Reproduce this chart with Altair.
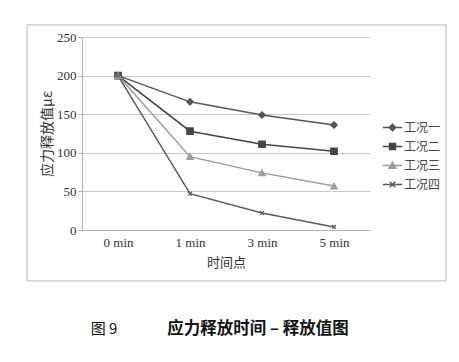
import altair as alt
import pandas as pd

times = ["0 min", "1 min", "3 min", "5 min"]
series_names = ["工况一", "工况二", "工况三", "工况四"]
values = {
    "工况一": [200, 166, 149, 136],
    "工况二": [200, 128, 111, 102],
    "工况三": [200, 95, 74, 57],
    "工况四": [200, 47, 22, 4],
}
colors = ["#555555", "#444444", "#9c9c9c", "#5c5c5c"]
shapes = ["diamond", "square", "triangle-up",
          "M-0.6,-0.6L0.6,0.6M-0.6,0.6L0.6,-0.6"]
legend_shapes = [
    "M-1,0H1M-0.34,0L0,-0.34L0.34,0L0,0.34Z",
    "M-1,0H1M-0.3,-0.3H0.3V0.3H-0.3Z",
    "M-1,0H1M-0.34,0.28L0,-0.32L0.34,0.28Z",
    "M-1,0H1M-0.28,-0.28L0.28,0.28M-0.28,0.28L0.28,-0.28",
]

rows = []
for s in series_names:
    for t, v in zip(times, values[s]):
        rows.append({"series": s, "s2": s, "time": t, "value": v})
df = pd.DataFrame(rows)

cjk = "Noto Sans CJK SC"
serif = "Liberation Serif"

x_enc = alt.X("time:N", sort=times,
              axis=alt.Axis(title="时间点", labelAngle=0, ticks=False,
                            domainColor="#b0b0b0", labelFont=serif,
                            labelFontSize=13, labelColor="#333",
                            titleFont=cjk, titleFontSize=13,
                            titleFontWeight="normal", titleColor="#333",
                            labelPadding=6, titlePadding=7, grid=False))
y_enc = alt.Y("value:Q", scale=alt.Scale(domain=[0, 250]),
              axis=alt.Axis(title="应力释放值με", values=[0, 50, 100, 150, 200, 250],
                            gridColor="#c8c8c8", domainColor="#b0b0b0",
                            tickColor="#b0b0b0", tickSize=4,
                            labelFont=serif, labelFontSize=13, labelColor="#333",
                            titleFont=cjk, titleFontSize=14,
                            titleFontWeight="normal", titleColor="#333",
                            labelPadding=2, titlePadding=2))

base = alt.Chart(df)

lines = base.mark_line(strokeWidth=1.5).encode(
    x=x_enc, y=y_enc,
    color=alt.Color("series:N", scale=alt.Scale(domain=series_names, range=colors), legend=None),
    detail="series:N",
)

points = base.mark_point(filled=True, size=40, strokeWidth=1.3, opacity=1).encode(
    x=x_enc, y=y_enc,
    color=alt.Color("series:N", scale=alt.Scale(domain=series_names, range=colors), legend=None),
    stroke=alt.Stroke("series:N", scale=alt.Scale(domain=series_names, range=colors), legend=None),
    shape=alt.Shape("series:N", scale=alt.Scale(domain=series_names, range=shapes), legend=None),
)

leg_legend = alt.Legend(title=None, orient="none", legendX=300, legendY=80,
                        labelFont=cjk, labelFontSize=12, labelColor="#444",
                        symbolSize=380, symbolStrokeWidth=1.5, symbolOpacity=1,
                        rowPadding=2, labelOffset=1)
legend_layer = base.transform_filter(alt.datum.time == "0 min").mark_point(
    filled=True, opacity=0).encode(
    x=x_enc, y=y_enc,
    color=alt.Color("s2:N", scale=alt.Scale(domain=series_names, range=colors), legend=leg_legend),
    stroke=alt.Stroke("s2:N", scale=alt.Scale(domain=series_names, range=colors), legend=leg_legend),
    shape=alt.Shape("s2:N", scale=alt.Scale(domain=series_names, range=legend_shapes), legend=leg_legend),
)

frame = alt.Chart(pd.DataFrame({"a": [0]})).mark_rect(
    fill=None, stroke="#b8b8b8", strokeWidth=1).encode(
    x=alt.value(-55), x2=alt.value(364), y=alt.value(-12), y2=alt.value(244))

cap_df = pd.DataFrame({"a": [0]})
cap1 = alt.Chart(cap_df).mark_text(text="图 9", font=cjk, fontSize=15,
                                   fontWeight="normal", color="#111").encode(
    x=alt.value(22), y=alt.value(292))
cap2 = alt.Chart(cap_df).mark_text(text="应力释放时间 – 释放值图", font=cjk, fontSize=16.5,
                                   fontWeight="bold", color="#111").encode(
    x=alt.value(176), y=alt.value(292))

chart = alt.layer(frame, lines, points, legend_layer, cap1, cap2).resolve_scale(
    color="independent", shape="independent", stroke="independent"
).properties(
    width=288, height=193,
    padding={"left": 74, "top": 29, "right": 81, "bottom": 124},
    autosize=alt.AutoSizeParams(type="none"),
    background="white",
).configure_view(stroke=None)

chart.save("out.html", embed_options={"renderer": "svg", "actions": False})
